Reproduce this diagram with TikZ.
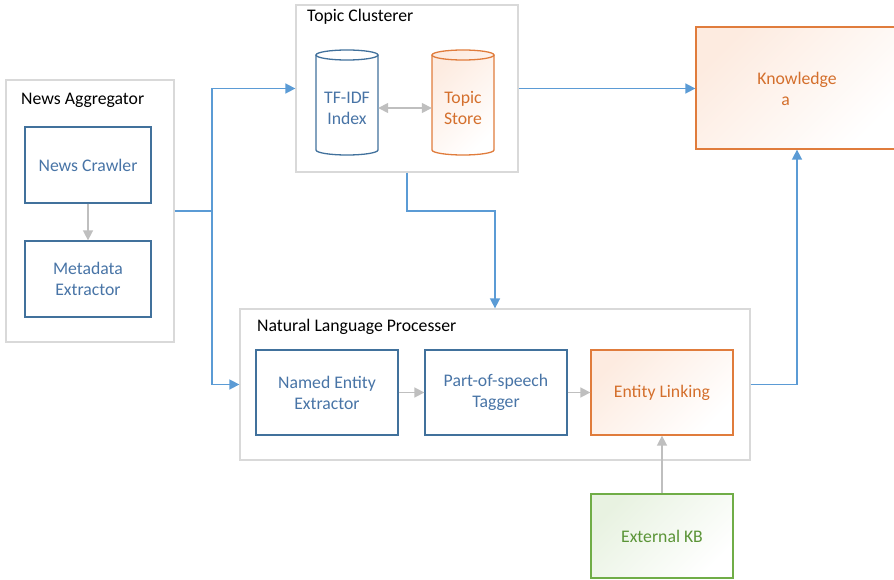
\documentclass[tikz,border=0pt]{standalone}
\usepackage{fontspec}
\setmainfont{Carlito}
\usetikzlibrary{arrows.meta,calc}
\definecolor{cBlue}{HTML}{41719C}
\definecolor{cBlueT}{HTML}{4874A6}
\definecolor{cLine}{HTML}{5B9BD5}
\definecolor{cGray}{HTML}{BFBFBF}
\definecolor{cBox}{HTML}{D9D9D9}
\definecolor{cOrange}{HTML}{E07C3C}
\definecolor{cOrangeT}{HTML}{D46F2C}
\definecolor{cOrangeL}{HTML}{FDEBE0}
\definecolor{cGreen}{HTML}{70AD47}
\definecolor{cGreenT}{HTML}{5A9436}
\definecolor{cGreenL}{HTML}{E8F2E1}
\begin{document}
\begin{tikzpicture}[x=1pt,y=-1pt,
  font=\fontsize{17.7}{21}\selectfont,
  container/.style={draw=cBox, line width=1.3pt, rectangle, inner sep=0pt},
  title/.style={anchor=west, inner sep=0pt, text=black},
  bluebox/.style={draw=cBlue, line width=1.3pt, rectangle, text=cBlueT, align=center, inner sep=0pt, minimum width=#1},
  bluebox/.default=142pt,
  orangebox/.style={draw=cOrange, line width=1.3pt, rectangle, text=cOrangeT, align=center, inner sep=0pt, top color=cOrangeL, middle color=white, bottom color=white, shading angle=45},
  greenbox/.style={draw=cGreen, line width=1.3pt, rectangle, text=cGreenT, align=center, inner sep=0pt, top color=cGreenL, middle color=white, bottom color=white, shading angle=45},
  cyltext/.style={align=center, inner sep=0pt, minimum width=62pt},
  blueconn/.style={draw=cLine, line width=1.6pt, -{Triangle[length=10pt,width=10pt]}},
  grayconn/.style={draw=cGray, line width=1.6pt, -{Triangle[length=10pt,width=10pt]}},
  graydouble/.style={draw=cGray, line width=1.6pt, {Triangle[length=10pt,width=10pt]}-{Triangle[length=10pt,width=10pt]}}
]
\useasboundingbox (0,0) rectangle (894,580);

% containers
\node[container, minimum width=168pt, minimum height=262pt] (agg) at (90,211) {};
\node[title] (aggt) at (21,100) {News Aggregator};
\node[container, minimum width=222pt, minimum height=167pt] (tc) at (407,88.5) {};
\node[title] (tct) at (307,17) {Topic Clusterer};
\node[container, minimum width=510pt, minimum height=151pt] (nlp) at (495,384.5) {};
\node[title] (nlpt) at (257,327) {Natural Language Processer};

% news aggregator content
\node[bluebox=126pt, minimum height=76pt] (crawler) at (88,165) {News Crawler};
\node[bluebox=126pt, minimum height=76pt] (meta) at (88,279) {Metadata\\Extractor};

% cylinders
\draw[cBlue, line width=1.3pt, fill=white]
  (316,55) -- (316,150) arc[start angle=180, end angle=360, x radius=31pt, y radius=5pt] -- (378,55);
\draw[cBlue, line width=1.3pt, fill=white] (347,55) ellipse[x radius=31pt, y radius=5pt];
\shade[top color=cOrangeL, middle color=white, bottom color=white, shading angle=45]
  (432,55) -- (432,150) arc[start angle=180, end angle=360, x radius=31pt, y radius=5pt] -- (494,55)
  arc[start angle=0, end angle=180, x radius=31pt, y radius=5pt] -- cycle;
\draw[cOrange, line width=1.3pt]
  (432,55) -- (432,150) arc[start angle=180, end angle=360, x radius=31pt, y radius=5pt] -- (494,55);
\draw[cOrange, line width=1.3pt] (463,55) ellipse[x radius=31pt, y radius=5pt];
\node[cyltext, text=cBlueT] (tfidf) at (347,108) {TF-IDF\\Index};
\node[cyltext, text=cOrangeT] (store) at (463,108) {Topic\\Store};

% knowledge
\node[orangebox, minimum width=202pt, minimum height=122pt] (know) at (797,88) {};
\node[align=left, text=cOrangeT, inner sep=0pt] (knowt) at (797,89) {Knowledge\\\hspace*{24pt}a};

% NLP content
\node[bluebox, minimum height=85pt] (ner) at (327,392.5) {Named Entity\\Extractor};
\node[bluebox, minimum height=85pt] (pos) at (496,392.5) {Part-of-speech\\Tagger};
\node[orangebox, minimum width=142pt, minimum height=85pt] (el) at (662,392.5) {Entity Linking};
\node[greenbox, minimum width=142pt, minimum height=84pt] (ekb) at (662,536) {External KB};

% gray connectors
\draw[grayconn] (crawler.south) -- (meta.north);
\draw[graydouble] (tfidf.east) -- (store.west);
\draw[grayconn] (ner.east) -- (pos.west);
\draw[grayconn] (pos.east) -- (el.west);
\draw[grayconn] (ekb.north) -- (el.south);

% blue connectors
\coordinate (J) at (212,211);
\draw[draw=cLine, line width=1.6pt] (agg.east) -- (J);
\draw[blueconn] (J) |- (tc.west);
\draw[blueconn] (J) |- (nlp.west);
\draw[blueconn] (tc.east) -- (tc.east -| know.west);
\draw[blueconn] (tc.south) |- (nlp.north |- J) -- (nlp.north);
\draw[blueconn] (nlp.east) -| (know.south);
\end{tikzpicture}
\end{document}
